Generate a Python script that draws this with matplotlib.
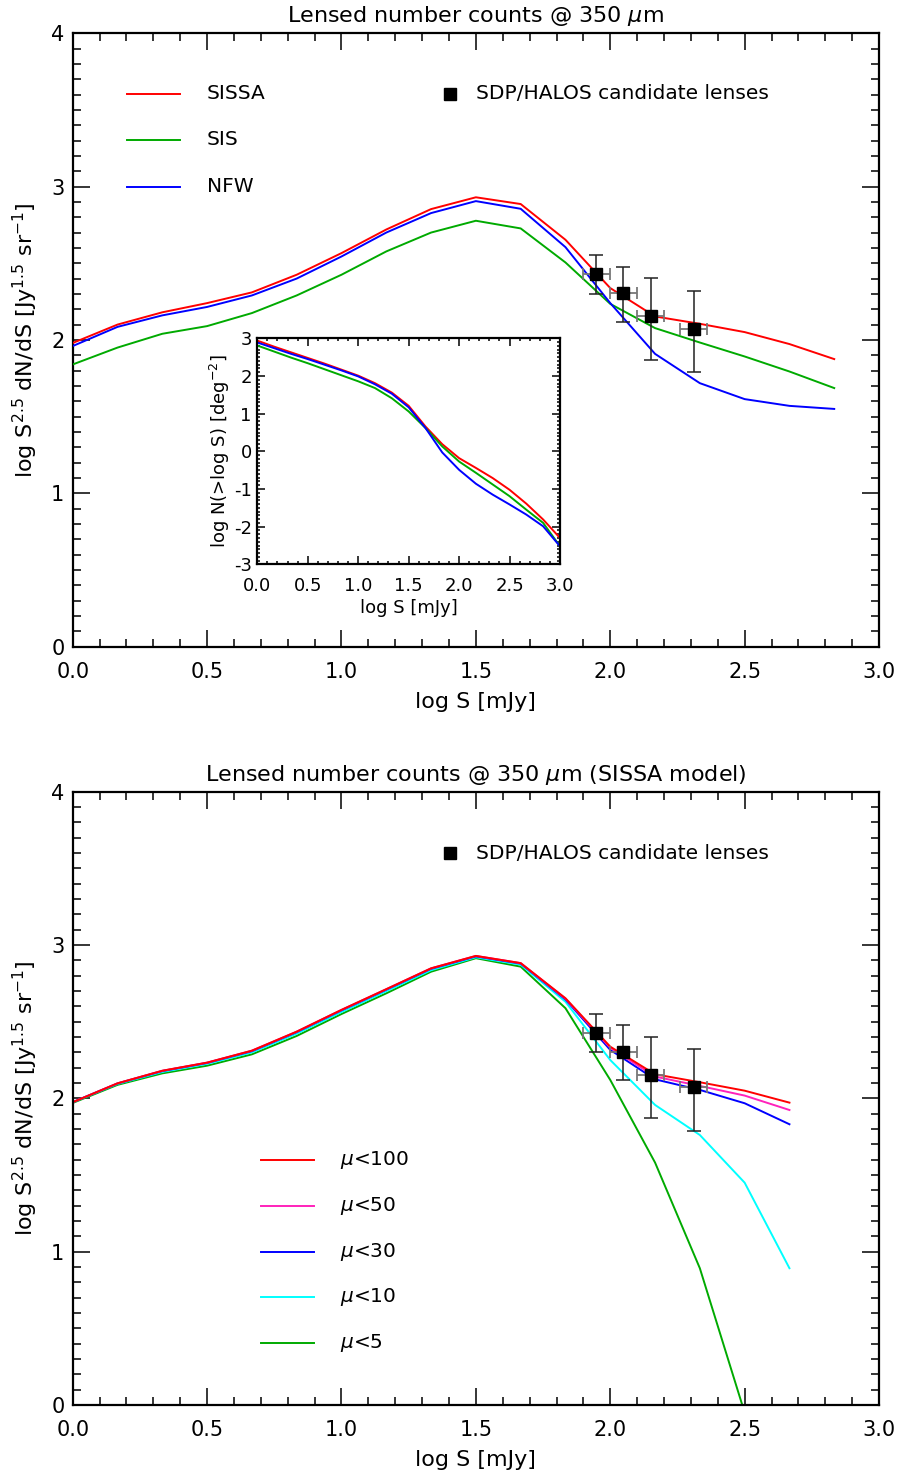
import numpy as np
import matplotlib
matplotlib.use("Agg")
import matplotlib.pyplot as plt
from matplotlib.ticker import MultipleLocator, FormatStrFormatter

plt.rcParams['font.family'] = ['DejaVu Sans']
plt.rcParams['mathtext.fontset'] = 'dejavusans'

# ---- differential counts, three lens models (log S step 1/6) ----
logS_top = [0.0, 0.1667, 0.3333, 0.5, 0.6667, 0.8333, 1.0, 1.1667, 1.3333, 1.5,
            1.6667, 1.8333, 2.0, 2.1667, 2.3333, 2.5, 2.6667, 2.8333]
sissa = [1.98, 2.10, 2.18, 2.24, 2.31, 2.425, 2.566, 2.72, 2.853, 2.93,
         2.886, 2.653, 2.338, 2.153, 2.105, 2.051, 1.973, 1.875]
sis = [1.84, 1.95, 2.04, 2.09, 2.175, 2.29, 2.425, 2.577, 2.70, 2.777,
       2.727, 2.505, 2.235, 2.077, 1.983, 1.892, 1.794, 1.686]
nfw = [1.96, 2.085, 2.16, 2.215, 2.29, 2.40, 2.544, 2.70, 2.827, 2.905,
       2.855, 2.605, 2.24, 1.909, 1.718, 1.614, 1.57, 1.55]
top_names = ["SISSA", "SIS", "NFW"]

# ---- integral counts (inset) ----
logS_int = [0.0, 0.1667, 0.3333, 0.5, 0.6667, 0.8333, 1.0, 1.1667, 1.3333, 1.5,
            1.6667, 1.8333, 2.0, 2.1667, 2.3333, 2.5, 2.6667, 2.8333, 3.0]
int_sissa = [2.94, 2.78, 2.63, 2.48, 2.33, 2.17, 2.01, 1.81, 1.56, 1.21,
             0.66, 0.19, -0.18, -0.44, -0.71, -1.02, -1.39, -1.81, -2.30]
int_sis = [2.81, 2.65, 2.49, 2.34, 2.18, 2.02, 1.86, 1.68, 1.41, 1.06,
           0.62, 0.13, -0.27, -0.57, -0.88, -1.19, -1.55, -1.90, -2.52]
int_nfw = [2.89, 2.74, 2.59, 2.45, 2.30, 2.15, 1.99, 1.78, 1.53, 1.17,
           0.62, -0.03, -0.49, -0.86, -1.15, -1.41, -1.68, -1.99, -2.52]

# ---- SISSA model with magnification cut ----
logS_bot = [0.0, 0.1667, 0.3333, 0.5, 0.6667, 0.8333, 1.0, 1.1667, 1.3333, 1.5,
            1.6667, 1.8333, 2.0, 2.1667, 2.3333, 2.5, 2.6667]
mu100 = [1.975, 2.098, 2.18, 2.233, 2.311, 2.435, 2.577, 2.712, 2.848, 2.929,
         2.882, 2.653, 2.337, 2.157, 2.105, 2.05, 1.972]
mu50 = [1.975, 2.098, 2.18, 2.233, 2.311, 2.435, 2.577, 2.712, 2.848, 2.929,
        2.882, 2.650, 2.330, 2.142, 2.081, 2.018, 1.924]
mu30 = [1.975, 2.097, 2.178, 2.231, 2.308, 2.432, 2.574, 2.709, 2.845, 2.926,
        2.879, 2.645, 2.316, 2.124, 2.055, 1.968, 1.831]
mu10 = [1.975, 2.094, 2.172, 2.225, 2.300, 2.422, 2.563, 2.699, 2.836, 2.920,
        2.872, 2.630, 2.25, 1.957, 1.761, 1.45, 0.892]
mu5_x = [0.0, 0.1667, 0.3333, 0.5, 0.6667, 0.8333, 1.0, 1.1667, 1.3333, 1.5,
         1.6667, 1.8333, 2.0, 2.1667, 2.3333, 2.5]
mu5 = [1.97, 2.088, 2.163, 2.213, 2.287, 2.407, 2.55, 2.685, 2.826, 2.914,
       2.859, 2.588, 2.12, 1.581, 0.892, -0.05]
bot_names = [r"$\mu$<100", r"$\mu$<50", r"$\mu$<30", r"$\mu$<10", r"$\mu$<5"]

# ---- SDP/HALOS candidate lenses ----
obs_x = [1.948, 2.048, 2.150, 2.311]
obs_y = [2.429, 2.305, 2.153, 2.072]
obs_xerr = [0.05, 0.05, 0.05, 0.05]
obs_yerr_lo = [0.129, 0.185, 0.283, 0.282]
obs_yerr_hi = [0.122, 0.172, 0.250, 0.250]
obs_name = "SDP/HALOS candidate lenses"

RED = "#ff0000"
GREEN = "#00aa00"
BLUE = "#0000ff"
MAGENTA = "#ff22bb"
CYAN = "#00ffff"

FS_TICK = 15
FS_LABEL = 16
FS_TITLE = 16
FS_LEG = 14.5
FS_INSET = 13
LW = 1.4


def style_axes(ax, fs, major=12, minor=6, ypad=6, xpad=12):
    ax.tick_params(which='both', direction='in', top=True, right=True,
                   width=1.1, labelsize=fs)
    ax.tick_params(which='major', length=major)
    ax.tick_params(which='minor', length=minor)
    ax.tick_params(axis='x', which='both', pad=xpad)
    ax.tick_params(axis='y', which='both', pad=ypad)
    for s in ax.spines.values():
        s.set_linewidth(1.6)


def draw_obs(ax):
    ax.errorbar(obs_x, obs_y, xerr=obs_xerr, fmt='none', ecolor='#777777',
                elinewidth=1.3, capsize=4, capthick=1.3, zorder=4)
    ax.errorbar(obs_x, obs_y, yerr=[obs_yerr_lo, obs_yerr_hi], fmt='none',
                ecolor='#222222', elinewidth=1.1, capsize=5, capthick=1.1, zorder=4)
    ax.plot(obs_x, obs_y, 's', color='black', ms=8.5, zorder=5)


def main_axes(ax, title):
    ax.set_xlim(0, 3.0)
    ax.set_ylim(0, 4)
    ax.xaxis.set_major_locator(MultipleLocator(0.5))
    ax.xaxis.set_minor_locator(MultipleLocator(0.1))
    ax.yaxis.set_major_locator(MultipleLocator(1))
    ax.yaxis.set_minor_locator(MultipleLocator(0.1))
    ax.xaxis.set_major_formatter(FormatStrFormatter('%.1f'))
    ax.yaxis.set_major_formatter(FormatStrFormatter('%d'))
    style_axes(ax, FS_TICK, xpad=11)
    ax.set_xlabel("log S [mJy]", fontsize=FS_LABEL, labelpad=7)
    ax.set_ylabel(r"log S$^{2.5}$ dN/dS [Jy$^{1.5}$ sr$^{-1}$]", fontsize=FS_LABEL,
                  labelpad=8)
    ax.set_title(title, fontsize=FS_TITLE, pad=8)


fig = plt.figure(figsize=(9.0, 14.75), dpi=100)

# ================= top panel =================
ax1 = fig.add_axes([0.0808, 0.5616, 0.8959, 0.4159])
main_axes(ax1, r"Lensed number counts @ 350 $\mu$m")
for yv, c in zip([sissa, sis, nfw], [RED, GREEN, BLUE]):
    ax1.plot(logS_top, yv, color=c, lw=LW, zorder=3)
draw_obs(ax1)

leg_rows = [0.901, 0.826, 0.750]
for name, c, yr in zip(top_names, [RED, GREEN, BLUE], leg_rows):
    ax1.plot([0.0673, 0.1331], [yr, yr], color=c, lw=LW, transform=ax1.transAxes)
    ax1.text(0.1666, yr, name, transform=ax1.transAxes, fontsize=FS_LEG,
             va='center', ha='left')
ax1.plot([0.468], [0.901], 's', color='black', ms=8.5, transform=ax1.transAxes)
ax1.text(0.500, 0.901, obs_name, transform=ax1.transAxes, fontsize=FS_LEG,
         va='center', ha='left')

# ----- inset: integral counts -----
axi = fig.add_axes([0.2859, 0.6174, 0.3363, 0.1532])
for yv, c in zip([int_sissa, int_sis, int_nfw], [RED, GREEN, BLUE]):
    axi.plot(logS_int, yv, color=c, lw=LW)
axi.set_xlim(0, 3.0)
axi.set_ylim(-3, 3)
axi.xaxis.set_major_locator(MultipleLocator(0.5))
axi.xaxis.set_minor_locator(MultipleLocator(0.1))
axi.yaxis.set_major_locator(MultipleLocator(1))
axi.yaxis.set_minor_locator(MultipleLocator(0.1))
axi.xaxis.set_major_formatter(FormatStrFormatter('%.1f'))
axi.yaxis.set_major_formatter(FormatStrFormatter('%d'))
style_axes(axi, FS_INSET, major=6, minor=2.5, ypad=4, xpad=9)
axi.set_xlabel("log S [mJy]", fontsize=FS_INSET, labelpad=3)
axi.set_ylabel(r"log N(>log S) [deg$^{-2}$]", fontsize=FS_INSET, labelpad=1)

# ================= bottom panel =================
ax2 = fig.add_axes([0.0808, 0.04746, 0.8959, 0.4158])
main_axes(ax2, r"Lensed number counts @ 350 $\mu$m (SISSA model)")
bot_x = [logS_bot, logS_bot, logS_bot, logS_bot, mu5_x]
bot_y = [mu100, mu50, mu30, mu10, mu5]
bot_c = [RED, MAGENTA, BLUE, CYAN, GREEN]
for xs, ys, c, z in zip(bot_x[::-1], bot_y[::-1], bot_c[::-1], range(5)):
    ax2.plot(xs, ys, color=c, lw=LW, zorder=2 + z * 0.1)
draw_obs(ax2)

leg_rows2 = [0.3995, 0.325, 0.250, 0.1756, 0.1006]
for name, c, yr in zip(bot_names, bot_c, leg_rows2):
    ax2.plot([0.2332, 0.2993], [yr, yr], color=c, lw=LW, transform=ax2.transAxes)
    ax2.text(0.3315, yr, name, transform=ax2.transAxes, fontsize=FS_LEG,
             va='center', ha='left')
ax2.plot([0.468], [0.900], 's', color='black', ms=8.5, transform=ax2.transAxes)
ax2.text(0.500, 0.900, obs_name, transform=ax2.transAxes, fontsize=FS_LEG,
         va='center', ha='left')

fig.savefig("out.png", dpi=100)
